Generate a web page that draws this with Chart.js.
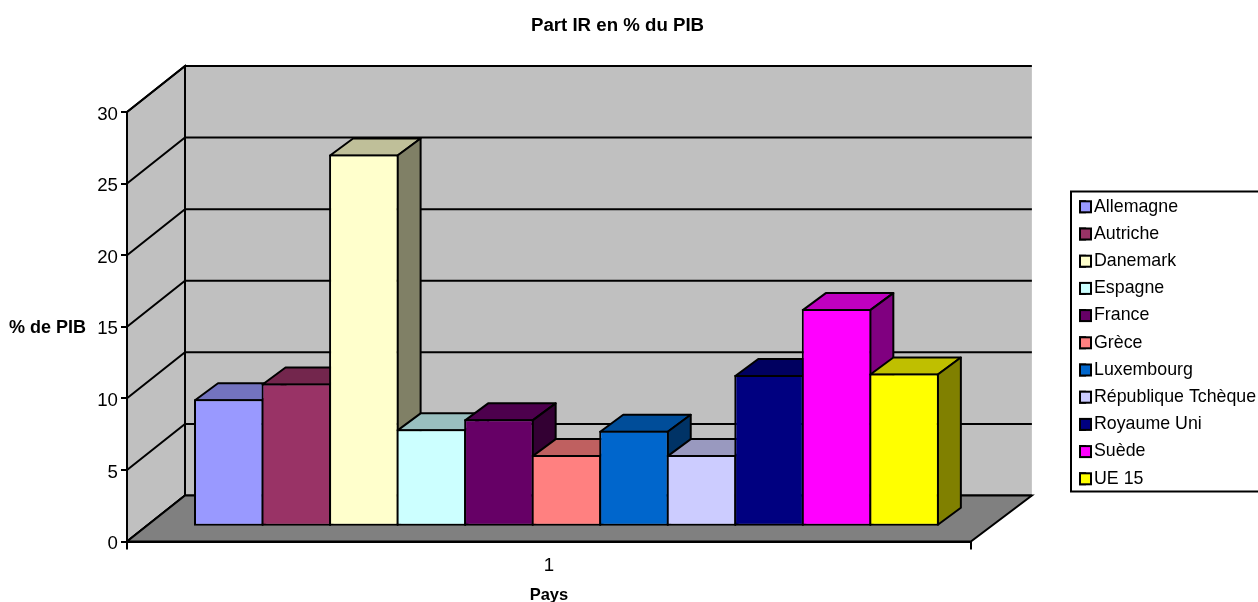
<!DOCTYPE html>
<html lang="fr">
<head>
<meta charset="utf-8">
<title>Part IR en % du PIB</title>
<style>
  html, body { margin: 0; padding: 0; background: #fff; }
  canvas { display: block; }
</style>
<script src="https://cdn.jsdelivr.net/npm/chart.js@4/dist/chart.umd.min.js"></script>
</head>
<body>
<canvas id="chart" width="1258" height="602"></canvas>
<script>
// Donnees
const categories = ["1"];
const pays = ["Allemagne", "Autriche", "Danemark", "Espagne", "France", "Grèce", "Luxembourg", "République Tchèque", "Royaume Uni", "Suède", "UE 15"];
const valeurs = [8.9, 10, 26, 6.8, 7.5, 5, 6.7, 5, 10.6, 15.2, 10.7];
const couleurs = ["#9999FF", "#993366", "#FFFFCC", "#CCFFFF", "#660066", "#FF8080", "#0066CC", "#CCCCFF", "#000080", "#FF00FF", "#FFFF00"];

const FONT = '"Liberation Sans", Arial, sans-serif';
const FONT_SIZE = 18.67;
const LEGEND_SIZE = 17.8;

// Profondeur de la boite 3D (murs) et des barres
const WALL_DX = 58, WALL_DX_RIGHT = 61, WALL_DY = -46;
const BAR_SHIFT_X = 17.5, BAR_SHIFT_Y = -14.8;
const BAR_DX = 23, BAR_DY = -17;

// Assombrit une couleur hexa pour les faces du dessus et de cote
function shade(hex, f) {
    const n = parseInt(hex.slice(1), 16);
    const c = [n >> 16, (n >> 8) & 255, n & 255].map(v => Math.round(v * f));
    return `rgb(${c[0]},${c[1]},${c[2]})`;
}

function poly(ctx, pts, fill) {
    ctx.beginPath();
    pts.forEach((p, i) => i ? ctx.lineTo(p[0], p[1]) : ctx.moveTo(p[0], p[1]));
    ctx.closePath();
    if (fill) { ctx.fillStyle = fill; ctx.fill(); }
    ctx.stroke();
}

const box3d = {
    id: "box3d",
    afterLayout(chart) {
        // Titre decale vers la gauche, legende callee sur le bord droit
        chart.titleBlock.right = 1235;
        const lg = chart.legend;
        lg.left = 1070.6; lg.right = 1258; lg.top = 188.5; lg.bottom = 540;

        // Libelles de l'axe Y un peu plus bas que leur graduation
        const y = chart.scales.y;
        const drawLabels = y.drawLabels;
        y.drawLabels = function (area) {
            chart.ctx.save();
            chart.ctx.translate(0, 2.5);
            drawLabels.call(this, area);
            chart.ctx.restore();
        };
    },
    beforeDraw(chart) {
        const { ctx, chartArea: a, scales: { y } } = chart;
        const x0 = a.left, x1 = a.right, y0 = a.bottom, y1 = a.top;
        const bx0 = x0 + WALL_DX, bx1 = x1 + WALL_DX_RIGHT;
        ctx.save();
        ctx.lineWidth = 2;
        ctx.strokeStyle = "#000";
        // Mur du fond et mur de gauche
        ctx.fillStyle = "#C0C0C0";
        ctx.fillRect(bx0, y1 + WALL_DY, bx1 - bx0, y0 - y1);
        poly(ctx, [[x0, y1], [bx0, y1 + WALL_DY], [bx0, y0 + WALL_DY], [x0, y0]], "#C0C0C0");
        // Grille sur les deux murs
        y.ticks.forEach(t => {
            const py = y.getPixelForValue(t.value);
            ctx.beginPath();
            ctx.moveTo(x0, py);
            ctx.lineTo(bx0, py + WALL_DY);
            ctx.lineTo(bx1, py + WALL_DY);
            ctx.stroke();
        });
        // Sol
        poly(ctx, [[x0, y0], [x1, y0], [bx1, y0 + WALL_DY], [bx0, y0 + WALL_DY]], "#808080");
        ctx.restore();
    },
    beforeDatasetsDraw(chart) {
        // Barres dessinees de gauche a droite pour que les faces se recouvrent bien
        const { ctx } = chart;
        ctx.save();
        ctx.translate(BAR_SHIFT_X, BAR_SHIFT_Y);
        ctx.lineWidth = 2;
        ctx.strokeStyle = "#000";
        ctx.lineJoin = "round";
        chart.getSortedVisibleDatasetMetas().forEach((meta, i) => {
            const bar = meta.data[0];
            // Le contour natif est a l'interieur du rectangle, d'ou le retrait de 1px
            const l = bar.x - bar.width / 2 + 1, r = bar.x + bar.width / 2 - 1;
            const top = bar.y + 1, bottom = bar.base - 1;
            const col = couleurs[i];
            poly(ctx, [[l, top], [l + BAR_DX, top + BAR_DY], [r + BAR_DX, top + BAR_DY], [r, top]], shade(col, 0.75));
            poly(ctx, [[r, top], [r + BAR_DX, top + BAR_DY], [r + BAR_DX, bottom + BAR_DY], [r, bottom]], shade(col, 0.5));
            bar.draw(ctx);
        });
        ctx.restore();
        return false;
    },
    afterDraw(chart) {
        const { ctx, legend } = chart;
        ctx.save();
        ctx.strokeStyle = "#000";
        ctx.lineWidth = 2;
        // Cadre de la legende, ouvert sur le bord droit
        ctx.strokeRect(1071, 191.5, 200, 300);
        // Pastilles carrees
        legend.legendHitBoxes.forEach((h, i) => {
            const sy = h.top + (LEGEND_SIZE - 11) / 2;
            ctx.fillStyle = couleurs[i];
            ctx.fillRect(h.left, sy, 11, 11);
            ctx.strokeRect(h.left, sy, 11, 11);
        });
        // Titre de l'axe Y, horizontal
        ctx.fillStyle = "#000";
        ctx.font = `bold 18px ${FONT}`;
        ctx.textBaseline = "middle";
        ctx.textAlign = "left";
        ctx.fillText("% de PIB", 9, 328);
        ctx.restore();
    }
};

new Chart(document.getElementById("chart"), {
    type: "bar",
    data: {
        labels: categories,
        datasets: pays.map((nom, i) => ({
            label: nom,
            data: [valeurs[i]],
            backgroundColor: couleurs[i],
            borderColor: "#000",
            borderWidth: 2,
            borderSkipped: false,
            categoryPercentage: 0.8803,
            barPercentage: 1.0296
        }))
    },
    options: {
        responsive: false,
        animation: false,
        color: "#000",
        font: { family: FONT, size: FONT_SIZE },
        layout: { padding: { left: 0, right: 91.6, top: 0, bottom: 0 } },
        plugins: {
            tooltip: { enabled: false },
            title: {
                display: true,
                text: "Part IR en % du PIB",
                color: "#000",
                font: { family: FONT, size: FONT_SIZE, weight: "bold" },
                padding: { top: 15, bottom: 74.6 }
            },
            legend: {
                position: "right",
                align: "start",
                onClick: null,
                labels: {
                    color: "#000",
                    font: { family: FONT, size: LEGEND_SIZE },
                    boxWidth: 5.1,
                    boxHeight: 11,
                    padding: 9.4
                }
            }
        },
        scales: {
            x: {
                afterFit: s => { s.height = 60.5; },
                border: { color: "#000", width: 2 },
                grid: { offset: true, drawOnChartArea: false, color: "#000", lineWidth: 2, tickLength: 8 },
                ticks: { color: "#000", font: { family: FONT, size: FONT_SIZE }, padding: 5 },
                title: {
                    display: true,
                    text: "Pays",
                    color: "#000",
                    font: { family: FONT, size: 16.5, weight: "bold" },
                    padding: { top: 10, bottom: -3 }
                }
            },
            y: {
                min: 0,
                max: 30,
                afterFit: s => { s.width = 127; },
                border: { color: "#000", width: 2 },
                grid: { drawOnChartArea: false, color: "#000", lineWidth: 2, tickLength: 6 },
                ticks: { stepSize: 5, color: "#000", font: { family: FONT, size: FONT_SIZE }, padding: 3 }
            }
        }
    },
    plugins: [box3d]
});
</script>
</body>
</html>
